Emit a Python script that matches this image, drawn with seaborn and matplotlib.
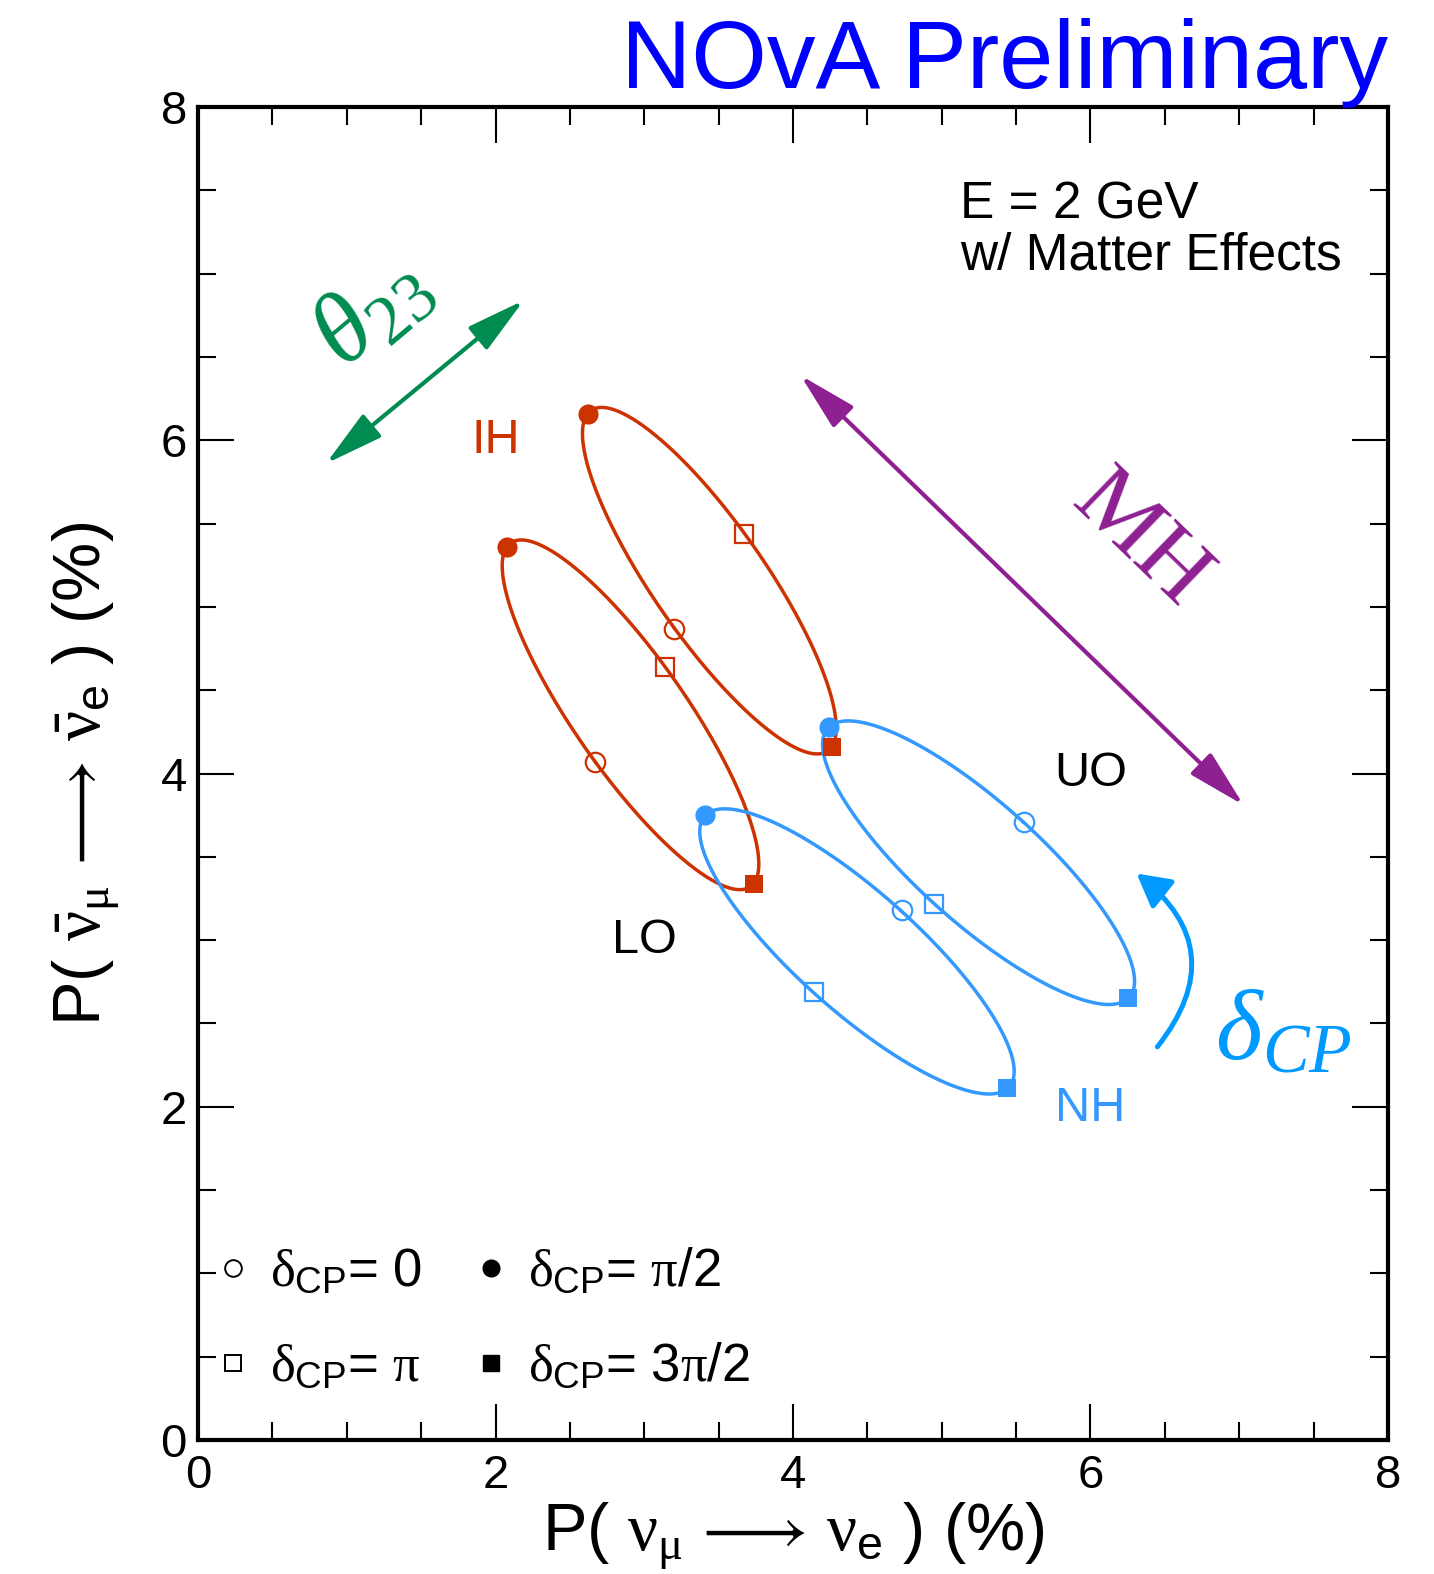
"""
NOvA bi-probability plot: P(numu->nue) vs P(anti-numu->anti-nue), E = 2 GeV.
"""

import numpy as np
import pandas as pd
import matplotlib.pyplot as plt
import seaborn as sns
from matplotlib.lines import Line2D
from matplotlib.ticker import MultipleLocator

# marker points, ordered dCP = 0, pi/2, pi, 3pi/2
ih_uo_x = [3.20, 2.62, 3.67, 4.26]
ih_uo_y = [4.87, 6.16, 5.44, 4.16]
ih_lo_x = [2.67, 2.08, 3.14, 3.74]
ih_lo_y = [4.07, 5.36, 4.64, 3.34]
nh_uo_x = [5.55, 4.24, 4.95, 6.25]
nh_uo_y = [3.71, 4.28, 3.22, 2.65]
nh_lo_x = [4.73, 3.41, 4.14, 5.44]
nh_lo_y = [3.18, 3.75, 2.69, 2.11]

curves = {
    ("IH", "UO"): (ih_uo_x, ih_uo_y),
    ("IH", "LO"): (ih_lo_x, ih_lo_y),
    ("NH", "UO"): (nh_uo_x, nh_uo_y),
    ("NH", "LO"): (nh_lo_x, nh_lo_y),
}

legend_labels = [r"$\delta_{\mathrm{CP}}$= 0", r"$\delta_{\mathrm{CP}}$= $\pi$",
                 r"$\delta_{\mathrm{CP}}$= $\pi$/2", r"$\delta_{\mathrm{CP}}$= 3$\pi$/2"]
ticks = [0, 2, 4, 6, 8]

RED = "#cc3300"
BLUE = "#3399ff"
GREEN = "#008c50"
PURPLE = "#8e2092"
DBLUE = "#0099ff"
colors = {"IH": RED, "NH": BLUE}

sns.set_theme(style="ticks")
plt.rcParams["font.family"] = ["Liberation Sans", "DejaVu Sans"]
plt.rcParams["text.color"] = "black"
plt.rcParams["axes.labelcolor"] = "black"
plt.rcParams["xtick.color"] = "black"
plt.rcParams["ytick.color"] = "black"
plt.rcParams["mathtext.fontset"] = "custom"
plt.rcParams["mathtext.rm"] = "Liberation Sans"
plt.rcParams["mathtext.it"] = "Liberation Serif"
plt.rcParams["mathtext.sf"] = "Liberation Serif:italic"
plt.rcParams["mathtext.cal"] = "Liberation Serif"
plt.rcParams["mathtext.fallback"] = "stixsans"


def ellipse(px, py, n=361):
    """x(d) = x0 + a cos d + b sin d through the four dCP points."""
    d = np.linspace(0, 2 * np.pi, n)
    out = []
    for p in (px, py):
        c0 = np.mean(p)
        a = (p[0] - p[2]) / 2
        b = (p[1] - p[3]) / 2
        out.append(c0 + a * np.cos(d) + b * np.sin(d))
    return out


rows = []
for (hier, octant), (px, py) in curves.items():
    cx, cy = ellipse(px, py)
    rows.append(pd.DataFrame({"x": cx, "y": cy, "hier": hier,
                              "curve": f"{hier}-{octant}"}))
df = pd.concat(rows, ignore_index=True)

fig = plt.figure(figsize=(14.34, 15.74), dpi=100)
ax = fig.add_axes([0.1381, 0.0851, 0.8298, 0.8469])

sns.lineplot(data=df, x="x", y="y", hue="hier", units="curve", estimator=None,
             sort=False, palette=colors, lw=2.5, legend=False, ax=ax)

styles = [dict(marker="o", mfc="none", ms=14, mew=1.6),
          dict(marker="o", ms=14.5, mew=0),
          dict(marker="s", mfc="none", ms=13, mew=1.6),
          dict(marker="s", ms=13, mew=0)]
for (hier, octant), (px, py) in curves.items():
    c = colors[hier]
    for i, st in enumerate(styles):
        ax.plot(px[i], py[i], ls="none", color=c, mec=c, zorder=4, **st)

ax.set_xlim(0, 8)
ax.set_ylim(0, 8)
ax.set_xticks(ticks)
ax.set_yticks(ticks)
ax.xaxis.set_minor_locator(MultipleLocator(0.5))
ax.yaxis.set_minor_locator(MultipleLocator(0.5))
ax.tick_params(which="both", direction="in", top=True, right=True,
               width=1.5, color="black", labelsize=34)
ax.tick_params(which="major", length=26)
ax.tick_params(which="minor", length=13)
ax.tick_params(axis="x", pad=10)
ax.tick_params(axis="y", pad=8)
for s in ax.spines.values():
    s.set_linewidth(3)
    s.set_color("black")

ax.set_xlabel(r"P( $\nu_{\mu}\,\longrightarrow\,\nu_{\mathrm{e}}$ ) (%)",
              fontsize=48, labelpad=2)
ax.set_ylabel(r"P( $\bar{\nu}_{\mu}\,\longrightarrow\,\bar{\nu}_{\mathrm{e}}$ ) (%)",
              fontsize=48, labelpad=28)

# labels on the plot
ax.text(2.0, 6.0, "IH", color=RED, fontsize=35, ha="center", va="center")
ax.text(6.0, 4.0, "UO", color="black", fontsize=35, ha="center", va="center")
ax.text(3.0, 3.0, "LO", color="black", fontsize=35, ha="center", va="center")
ax.text(6.0, 1.99, "NH", color=BLUE, fontsize=35, ha="center", va="center")
ax.text(5.12, 7.26, "E = 2 GeV\nw/ Matter Effects", fontsize=37,
        ha="left", va="center", linespacing=1.05)

# theta23 arrow
ax.annotate("", xy=(2.19, 6.84), xytext=(0.86, 5.86),
            arrowprops=dict(arrowstyle="<|-|>,head_length=1.8,head_width=0.45",
                            color=GREEN, lw=3, shrinkA=0, shrinkB=0,
                            mutation_scale=20))
ax.text(1.17, 6.77, r"$\mathsf{\theta}_{\mathcal{23}}$", color=GREEN,
        fontsize=72, rotation=40, ha="center", va="center")

# mass hierarchy arrow
ax.annotate("", xy=(7.03, 3.81), xytext=(4.05, 6.39),
            arrowprops=dict(arrowstyle="<|-|>,head_length=1.8,head_width=0.45",
                            color=PURPLE, lw=3, shrinkA=0, shrinkB=0,
                            mutation_scale=20))
ax.text(6.33, 5.40, "MH", color=PURPLE, fontsize=68, family="Liberation Serif",
        rotation=-44, ha="center", va="center")

# dCP curved arrow
ax.annotate("", xy=(6.31, 3.40), xytext=(6.45, 2.36),
            arrowprops=dict(arrowstyle="-|>,head_length=1.0,head_width=0.55",
                            color=DBLUE, lw=3.6, shrinkA=0, shrinkB=0,
                            mutation_scale=20, connectionstyle="arc3,rad=0.5"))
ax.text(7.3, 2.44, r"$\mathsf{\delta_{CP}}$", color=DBLUE, fontsize=72,
        ha="center", va="center")

# legend: two columns, filled on the right
handles = [Line2D([], [], color="black", ls="none", marker="o", mfc="none", ms=12, mew=1.4),
           Line2D([], [], color="black", ls="none", marker="s", mfc="none", ms=11.5, mew=1.4),
           Line2D([], [], color="black", ls="none", marker="o", ms=12),
           Line2D([], [], color="black", ls="none", marker="s", ms=11.5)]
ax.legend(handles, legend_labels, ncol=2, loc="lower left",
          bbox_to_anchor=(0.012, 0.036), frameon=False, fontsize=38,
          handlelength=0.8, handletextpad=0.3, columnspacing=0.9,
          labelspacing=0.85, borderpad=0, borderaxespad=0)

fig.text(0.968, 0.944, "NOvA Preliminary", color="#0000ff", fontsize=70,
         ha="right", va="baseline")

fig.savefig("out.png", dpi=100)
